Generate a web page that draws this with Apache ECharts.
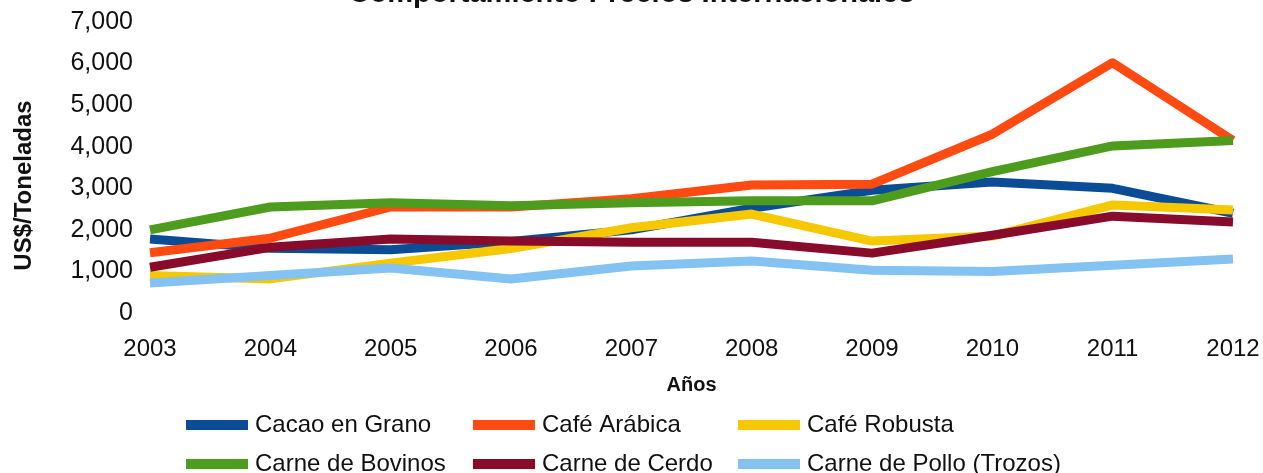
<!DOCTYPE html>
<html>
<head>
<meta charset="utf-8">
<title>Comportamiento Precios Internacionales</title>
<script src="https://cdn.jsdelivr.net/npm/echarts@6/dist/echarts.min.js"></script>
<style>
  html, body { margin: 0; padding: 0; background: #fff; }
  #chart { width: 1263px; height: 473px; }
</style>
</head>
<body>
<div id="chart"></div>
<script>
// datos (US$/tonelada)
const anios = ["2003", "2004", "2005", "2006", "2007", "2008", "2009", "2010", "2011", "2012"];
const cacaoGrano = [1780, 1560, 1520, 1720, 2000, 2520, 2950, 3150, 3000, 2400];
const cafeArabica = [1450, 1800, 2550, 2550, 2750, 3080, 3100, 4300, 6020, 4150];
const cafeRobusta = [900, 820, 1200, 1550, 2050, 2380, 1730, 1850, 2600, 2480];
const carneBovinos = [2000, 2550, 2650, 2580, 2650, 2700, 2700, 3400, 4020, 4150];
const carneCerdo = [1100, 1580, 1780, 1730, 1700, 1700, 1440, 1870, 2330, 2190];
const carnePollo = [720, 900, 1080, 820, 1130, 1250, 1030, 1000, 1150, 1300];
const yTicks = [0, 1000, 2000, 3000, 4000, 5000, 6000, 7000];

const nombres = ["Cacao en Grano", "Café Arábica", "Café Robusta",
                 "Carne de Bovinos", "Carne de Cerdo", "Carne de Pollo (Trozos)"];
const valores = [cacaoGrano, cafeArabica, cafeRobusta, carneBovinos, carneCerdo, carnePollo];
const colores = ["#0b4c96", "#ff4a12", "#f6c800", "#4e9c1e", "#880b2c", "#84c2f2"];

const fuente = "'Liberation Sans', Arial, sans-serif";

const series = nombres.map((n, i) => ({
    name: n,
    type: "line",
    data: valores[i],
    symbol: "none",
    smooth: false,
    lineStyle: { width: 9, color: colores[i], join: "round" },
    itemStyle: { color: colores[i] }
}));

// leyenda: una por elemento, 3 columnas x 2 filas
const colLeft = [186, 473, 738];
const rowTop = [413, 452];
const legends = nombres.map((n, i) => ({
    left: colLeft[i % 3],
    top: rowTop[Math.floor(i / 3)],
    padding: 0,
    itemWidth: 62,
    itemHeight: 10,
    itemStyle: { borderWidth: 0 },
    icon: "rect",
    textStyle: { fontFamily: fuente, fontSize: 24, color: "#111", padding: [0, 0, 0, 2] },
    data: [n]
}));

const option = {
    backgroundColor: "#fff",
    animation: false,
    title: {
        text: "Comportamiento Precios Internacionales",
        left: "center",
        top: -26,
        textStyle: { fontFamily: fuente, fontSize: 29, fontWeight: "bold", color: "#111" }
    },
    legend: legends,
    grid: { left: 150, right: 30, top: 22, bottom: 160, containLabel: false },
    xAxis: {
        type: "category",
        data: anios,
        boundaryGap: false,
        name: "Años",
        nameLocation: "middle",
        nameGap: 62,
        nameTextStyle: { fontFamily: fuente, fontSize: 20, fontWeight: "bold", color: "#111" },
        axisLine: { show: false },
        axisTick: { show: false },
        axisLabel: { fontFamily: fuente, fontSize: 24, color: "#111", margin: 24 }
    },
    yAxis: {
        type: "value",
        min: yTicks[0],
        max: yTicks[yTicks.length - 1],
        interval: 1000,
        name: "US$/Toneladas",
        nameLocation: "middle",
        nameRotate: 90,
        nameGap: 114,
        nameTextStyle: { fontFamily: fuente, fontSize: 24, fontWeight: "bold", color: "#111", padding: [0, 36, 0, 0] },
        axisLine: { show: false },
        axisTick: { show: false },
        splitLine: { show: false },
        axisLabel: {
            fontFamily: fuente, fontSize: 25, color: "#111", margin: 17,
            formatter: v => v.toLocaleString("en-US")
        }
    },
    series: series
};

const chart = echarts.init(document.getElementById("chart"));
chart.setOption(option);
</script>
</body>
</html>
